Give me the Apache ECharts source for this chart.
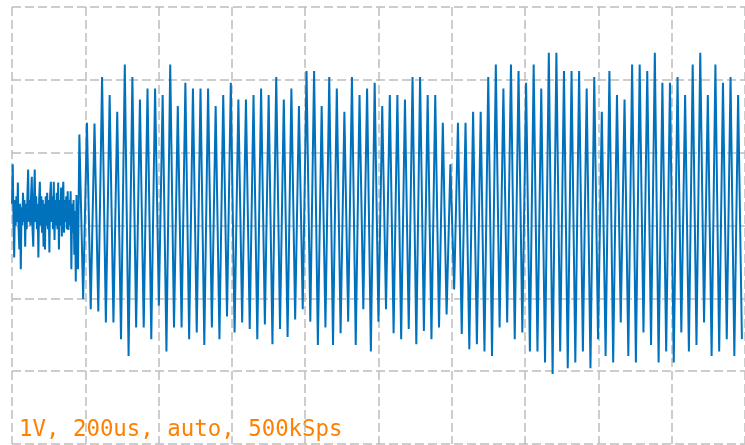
<!DOCTYPE html>
<html>
<head>
<meta charset="utf-8">
<script src="https://cdn.jsdelivr.net/npm/echarts@6/dist/echarts.min.js"></script>
<style>html,body{margin:0;padding:0;background:#fff;}#c{width:745px;height:445px;}</style>
</head>
<body>
<div id="c"></div>
<script>
// Time axis: 10 divisions x 200 us, voltage axis: 6 divisions x 1 V
const xTicksUs = [0, 200, 400, 600, 800, 1000, 1200, 1400, 1600, 1800, 2000];
const yTicksV = [-3, -2, -1, 0, 1, 2, 3];
const infoLabel = "1V, 200us, auto, 500kSps";

// Pre-trigger noise (one value every 2 us starting at t = 0)
const noiseStepUs = 2;
const noiseV = [0.30, 0.84, 0.10, -0.44, 0.35, 0.00, 0.40, 0.05, 0.59, -0.05,
  -0.33, 0.30, -0.60, 0.25, 0.00, 0.45, 0.05, 0.35, -0.29, 0.30,
  -0.05, 0.40, 0.77, 0.05, 0.35, 0.00, 0.40, 0.67, -0.05, -0.29,
  0.35, 0.77, 0.05, 0.40, -0.05, 0.30, -0.44, 0.35, 0.60, 0.00,
  0.40, -0.10, 0.35, -0.29, 0.30, -0.33, 0.40, 0.00, 0.45, -0.05,
  0.35, -0.37, 0.40, 0.60, 0.05, 0.40, -0.05, 0.60, -0.20, 0.35,
  0.00, 0.45, -0.05, 0.59, -0.33, 0.35, 0.00, 0.52, -0.15, 0.40,
  0.60, -0.10, 0.35, 0.05, 0.40, -0.05, 0.47, -0.06, 0.35, 0.00,
  0.47, -0.60, 0.30, -0.10, 0.35, -0.40, 0.20, -0.77, 0.42, -0.30,
  -0.60];

// Oscillation: alternating peak / trough values, one every half period
const swingStartUs = 183.8;
const swingStepUs = 10.33;
const peakV = [1.25, 1.41, 1.40, 2.04, 1.79, 1.56, 2.21, 2.04, 1.73, 1.88,
  1.88, 1.79, 2.21, 1.64, 1.96, 1.88, 1.88, 1.88, 1.64, 1.79,
  1.96, 1.73, 1.73, 1.79, 1.88, 1.79, 2.04, 1.73, 1.88, 1.64,
  2.12, 2.12, 1.64, 2.04, 1.88, 1.56, 2.04, 1.79, 1.88, 1.96,
  1.64, 1.79, 1.79, 1.73, 2.04, 2.04, 1.79, 1.79, 1.41, 0.84,
  1.41, 1.41, 1.56, 1.56, 2.04, 2.21, 1.88, 2.21, 2.12, 1.96,
  2.21, 1.88, 2.37, 2.37, 2.12, 2.12, 2.12, 1.88, 2.04, 1.56,
  2.12, 1.79, 1.73, 2.21, 2.21, 2.12, 2.37, 1.96, 1.96, 2.04,
  1.79, 2.21, 2.37, 1.79, 2.21, 1.96, 2.04, 1.79];
const troughV = [-1.01, -1.15, -1.18, -1.33, -1.33, -1.56, -1.79, -1.40, -1.40, -1.56,
  -1.10, -1.73, -1.40, -1.40, -1.56, -1.47, -1.64, -1.40, -1.56, -1.25,
  -1.47, -1.33, -1.42, -1.56, -1.36, -1.63, -1.42, -1.53, -1.29, -1.15,
  -1.32, -1.64, -1.40, -1.64, -1.48, -1.32, -1.64, -1.15, -1.73, -1.32,
  -1.15, -1.48, -1.56, -1.42, -1.63, -1.45, -1.56, -1.40, -1.22, -0.88,
  -1.49, -1.70, -1.63, -1.73, -1.79, -1.40, -1.33, -1.56, -1.47, -1.73,
  -1.73, -1.88, -2.04, -1.73, -1.96, -1.88, -1.73, -1.96, -1.56, -1.79,
  -1.88, -1.33, -1.79, -1.88, -1.47, -1.64, -1.88, -1.73, -1.88, -1.47,
  -1.73, -1.64, -1.33, -1.79, -1.73, -1.56, -1.79, -1.56];

const trace = [];
noiseV.forEach((v, i) => trace.push([i * noiseStepUs, v]));
peakV.forEach((p, k) => {
  trace.push([swingStartUs + (2 * k) * swingStepUs, p]);
  trace.push([swingStartUs + (2 * k + 1) * swingStepUs, troughV[k]]);
});

const gridLine = { show: true, lineStyle: { color: '#bdbdbd', width: 1.5, type: [9, 4] } };

const chart = echarts.init(document.getElementById('c'), null, { renderer: 'canvas' });
chart.setOption({
  animation: false,
  backgroundColor: '#ffffff',
  grid: { left: 12, top: 7, width: 740, height: 437, containLabel: false },
  xAxis: {
    type: 'value', min: xTicksUs[0], max: xTicksUs[xTicksUs.length - 1],
    interval: xTicksUs[1] - xTicksUs[0],
    axisLine: { show: false }, axisTick: { show: false }, axisLabel: { show: false },
    splitLine: gridLine
  },
  yAxis: {
    type: 'value', min: yTicksV[0], max: yTicksV[yTicksV.length - 1],
    interval: yTicksV[1] - yTicksV[0],
    axisLine: { show: false }, axisTick: { show: false }, axisLabel: { show: false },
    splitLine: gridLine
  },
  series: [{
    type: 'line', data: trace, showSymbol: false, symbol: 'none',
    lineStyle: { color: '#0072bd', width: 2.0 },
    sampling: null, silent: true
  }],
  graphic: [{
    type: 'text', left: 19, top: 419,
    style: { text: infoLabel, fill: '#ff7f00', font: '22.4px "DejaVu Sans Mono", monospace' }
  }]
});
</script>
</body>
</html>
